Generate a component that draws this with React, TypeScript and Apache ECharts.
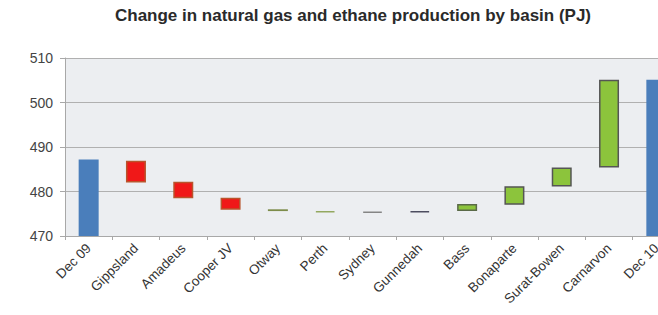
import React, { useEffect, useRef } from "react";
import * as echarts from "echarts";

const categories = [
  "Dec 09", "Gippsland", "Amadeus", "Cooper JV", "Otway", "Perth", "Sydney",
  "Gunnedah", "Bass", "Bonaparte", "Surat-Bowen", "Carnarvon", "Dec 10",
];
// bottom and top of each floating bar (PJ); totals start from zero
const lowValues = [0, 482.0, 478.5, 475.9, 475.6, 475.3, 475.2, 475.3, 475.6, 477.0, 481.1, 485.4, 0];
const highValues = [487.2, 486.9, 482.2, 478.6, 476.0, 475.6, 475.5, 475.6, 477.2, 481.2, 485.4, 505.1, 505.1];
const yTicks = [470, 480, 490, 500, 510];

const fills: Record<string, [string, string]> = {
  "Dec 09": ["#4a7ebb", "#3f6fa8"],
  Gippsland: ["#f01818", "#b9542c"],
  Amadeus: ["#f01818", "#b9542c"],
  "Cooper JV": ["#f01818", "#b9542c"],
  Otway: ["#a4bf5c", "#7d8c4a"],
  Perth: ["#b5d37a", "#93a860"],
  Sydney: ["#9a9a9a", "#858585"],
  Gunnedah: ["#5d5d70", "#4d4d60"],
  Bass: ["#8cc43c", "#5a6a48"],
  Bonaparte: ["#8cc43c", "#555555"],
  "Surat-Bowen": ["#8cc43c", "#555555"],
  Carnarvon: ["#8cc43c", "#555555"],
  "Dec 10": ["#4a7ebb", "#3f6fa8"],
};

export default function App() {
  const ref = useRef<HTMLDivElement>(null);
  useEffect(() => {
    document.body.style.margin = "0";
    document.body.style.overflow = "hidden";
    const chart = echarts.init(ref.current!, undefined, { renderer: "svg" });
    const deltas = highValues.map((h, i) => +(h - lowValues[i]).toFixed(2));
    chart.setOption({
      animation: false,
      backgroundColor: "#ffffff",
      textStyle: { fontFamily: "Liberation Sans, Arial, sans-serif" },
      title: {
        text: "Change in natural gas and ethane production by basin (PJ)",
        left: 348,
        textAlign: "center",
        top: 2,
        textStyle: { fontSize: 17, fontWeight: "bold", color: "#2a2a2a", fontFamily: "Liberation Sans, Arial, sans-serif" },
      },
      grid: { left: 65, top: 58, bottom: 79, right: 0, show: true, backgroundColor: "#eceef1", borderWidth: 0 },
      xAxis: {
        type: "category",
        data: categories,
        axisLine: { show: true, lineStyle: { color: "#a8a8a8", width: 1 } },
        axisTick: { show: true, length: 4, lineStyle: { color: "#a8a8a8" } },
        axisLabel: { rotate: 45, fontSize: 13.5, color: "#333", margin: 10, interval: 0 },
      },
      yAxis: {
        type: "value",
        min: yTicks[0],
        max: yTicks[yTicks.length - 1],
        interval: 10,
        axisLine: { show: true, lineStyle: { color: "#a8a8a8", width: 1 } },
        axisTick: { show: true, length: 5, lineStyle: { color: "#a8a8a8" } },
        axisLabel: { fontSize: 14, color: "#444", margin: 12 },
        splitLine: { show: true, lineStyle: { color: "#b0b0b0", width: 1.2 } },
      },
      series: [
        {
          type: "bar",
          stack: "w",
          silent: true,
          barWidth: 20,
          itemStyle: { color: "transparent", borderWidth: 0 },
          data: lowValues,
        },
        {
          type: "bar",
          stack: "w",
          barWidth: 20,
          data: deltas.map((v, i) => ({
            value: v,
            itemStyle: {
              color: fills[categories[i]][0],
              borderColor: fills[categories[i]][1],
              borderWidth: i === 0 || i === categories.length - 1 ? 0 : 1.5,
            },
          })),
        },
      ],
    });
    return () => chart.dispose();
  }, []);
  return <div ref={ref} style={{ width: 680, height: 315 }} />;
}
